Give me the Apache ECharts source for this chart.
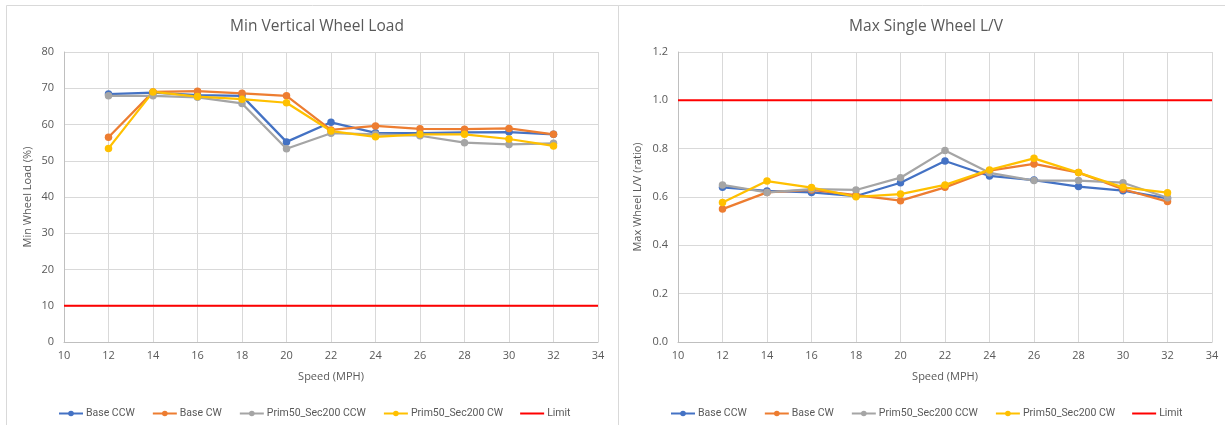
<!DOCTYPE html>
<html>
<head>
<meta charset="utf-8">
<script src="https://cdn.jsdelivr.net/npm/echarts@6/dist/echarts.min.js"></script>
<style>
  html, body { margin: 0; padding: 0; background: #fff; }
  #chart { width: 1225px; height: 425px; }
</style>
</head>
<body>
<div id="chart"></div>
<script>
// Speeds tested (MPH)
const speeds = [12, 14, 16, 18, 20, 22, 24, 26, 28, 30, 32];
const seriesNames = ['Base CCW', 'Base CW', 'Prim50_Sec200 CCW', 'Prim50_Sec200 CW'];
const seriesColors = ['#4472C4', '#ED7D31', '#A5A5A5', '#FFC000'];

// Minimum vertical wheel load (%)
const loadBaseCCW = [68.4, 68.8, 68.1, 67.9, 55.2, 60.6, 57.7, 57.6, 57.8, 57.9, 57.3];
const loadBaseCW  = [56.5, 69.0, 69.2, 68.6, 67.9, 58.5, 59.6, 58.8, 58.7, 58.9, 57.3];
const loadPrimCCW = [67.9, 67.9, 67.5, 65.8, 53.3, 57.6, 57.3, 56.9, 55.0, 54.5, 54.8];
const loadPrimCW  = [53.4, 69.0, 67.7, 67.0, 66.0, 58.2, 56.6, 57.3, 57.3, 56.0, 54.1];
const loadLimit = 10;

// Maximum single wheel L/V ratio
const lvBaseCCW = [0.640, 0.625, 0.619, 0.604, 0.659, 0.749, 0.687, 0.670, 0.643, 0.626, 0.594];
const lvBaseCW  = [0.550, 0.619, 0.629, 0.608, 0.585, 0.640, 0.709, 0.737, 0.701, 0.632, 0.581];
const lvPrimCCW = [0.650, 0.619, 0.633, 0.629, 0.680, 0.792, 0.700, 0.668, 0.668, 0.659, 0.597];
const lvPrimCW  = [0.577, 0.666, 0.639, 0.601, 0.612, 0.650, 0.712, 0.760, 0.701, 0.640, 0.618];
const lvLimit = 1.0;

// Axis ranges
const xMin = 10, xMax = 34, xStep = 2;
const loadMin = 0, loadMax = 80, loadStep = 10;
const lvMin = 0, lvMax = 1.2, lvStep = 0.2;

const FONT = 'Open Sans';
const LEGEND_FONT = 'Roboto';
const TXT = '#595959';

const pairs = (ys) => speeds.map((s, i) => [s, ys[i]]);

function dataSeries(name, color, ys, idx) {
  return {
    name: name, type: 'line', xAxisIndex: idx, yAxisIndex: idx,
    data: pairs(ys), symbol: 'circle', symbolSize: 7.5,
    lineStyle: { color: color, width: 2.25 },
    itemStyle: { color: color },
    emphasis: { disabled: true }, animation: false
  };
}
function limitSeries(value, idx) {
  return {
    name: 'Limit', type: 'line', xAxisIndex: idx, yAxisIndex: idx,
    data: [[xMin, value], [xMax, value]], symbol: 'none',
    lineStyle: { color: '#FF0000', width: 2 }, itemStyle: { color: '#FF0000' },
    emphasis: { disabled: true }, animation: false
  };
}
function xAxis(idx) {
  return {
    type: 'value', gridIndex: idx, min: xMin, max: xMax, interval: xStep,
    name: 'Speed (MPH)', nameLocation: 'middle', nameGap: 29,
    nameTextStyle: { color: TXT, fontFamily: FONT, fontSize: 11 },
    axisLine: { lineStyle: { color: '#BFBFBF', width: 1 } },
    axisTick: { show: false },
    axisLabel: { color: TXT, fontFamily: FONT, fontSize: 11, margin: 8 },
    splitLine: { show: true, lineStyle: { color: '#D9D9D9', width: 1 } }
  };
}
function yAxis(idx, min, max, step, title, digits) {
  return {
    type: 'value', gridIndex: idx, min: min, max: max, interval: step,
    name: title, nameLocation: 'middle', nameGap: digits ? 35 : 31,
    nameTextStyle: { color: TXT, fontFamily: FONT, fontSize: 11 },
    axisLine: { show: true, lineStyle: { color: '#BFBFBF', width: 1 } },
    axisTick: { show: false },
    axisLabel: { color: TXT, fontFamily: FONT, fontSize: 11, margin: 10,
      formatter: v => digits ? v.toFixed(digits) : String(v) },
    splitLine: { show: true, lineStyle: { color: '#D9D9D9', width: 1 } }
  };
}
function legend(left) {
  return {
    data: seriesNames.concat([{ name: 'Limit', icon: 'path://M0,0L24,0L24,2L0,2Z' }]),
    left: left, top: 403,
    itemWidth: 24, itemHeight: 7, itemGap: 17,
    textStyle: { color: TXT, fontFamily: LEGEND_FONT, fontSize: 10.5, padding: [0, 0, 0, -2] },
    selectedMode: false
  };
}

const chart = echarts.init(document.getElementById('chart'), null, { renderer: 'canvas' });
chart.setOption({
  animation: false,
  backgroundColor: '#fff',
  title: [
    { text: 'Min Vertical Wheel Load', left: 312, top: 14, textAlign: 'center',
      textStyle: { color: TXT, fontFamily: FONT, fontSize: 15.5, fontWeight: 'normal' } },
    { text: 'Max Single Wheel L/V', left: 921, top: 14, textAlign: 'center',
      textStyle: { color: TXT, fontFamily: FONT, fontSize: 15.5, fontWeight: 'normal' } }
  ],
  graphic: [
    { type: 'rect', shape: { x: 6.5, y: 5.5, width: 612, height: 430 },
      style: { fill: 'none', stroke: '#D9D9D9', lineWidth: 1 }, silent: true },
    { type: 'rect', shape: { x: 618.5, y: 5.5, width: 620, height: 430 },
      style: { fill: 'none', stroke: '#D9D9D9', lineWidth: 1 }, silent: true }
  ],
  grid: [
    { left: 64, top: 52, width: 534, height: 290 },
    { left: 678, top: 52, width: 534, height: 290 }
  ],
  legend: [legend(53), legend(665)],
  xAxis: [xAxis(0), xAxis(1)],
  yAxis: [
    yAxis(0, loadMin, loadMax, loadStep, 'Min Wheel Load (%)', 0),
    yAxis(1, lvMin, lvMax, lvStep, 'Max Wheel L/V (ratio)', 1)
  ],
  series: [
    dataSeries(seriesNames[0], seriesColors[0], loadBaseCCW, 0),
    dataSeries(seriesNames[1], seriesColors[1], loadBaseCW, 0),
    dataSeries(seriesNames[2], seriesColors[2], loadPrimCCW, 0),
    dataSeries(seriesNames[3], seriesColors[3], loadPrimCW, 0),
    limitSeries(loadLimit, 0),
    dataSeries(seriesNames[0], seriesColors[0], lvBaseCCW, 1),
    dataSeries(seriesNames[1], seriesColors[1], lvBaseCW, 1),
    dataSeries(seriesNames[2], seriesColors[2], lvPrimCCW, 1),
    dataSeries(seriesNames[3], seriesColors[3], lvPrimCW, 1),
    limitSeries(lvLimit, 1)
  ]
});
</script>
</body>
</html>
